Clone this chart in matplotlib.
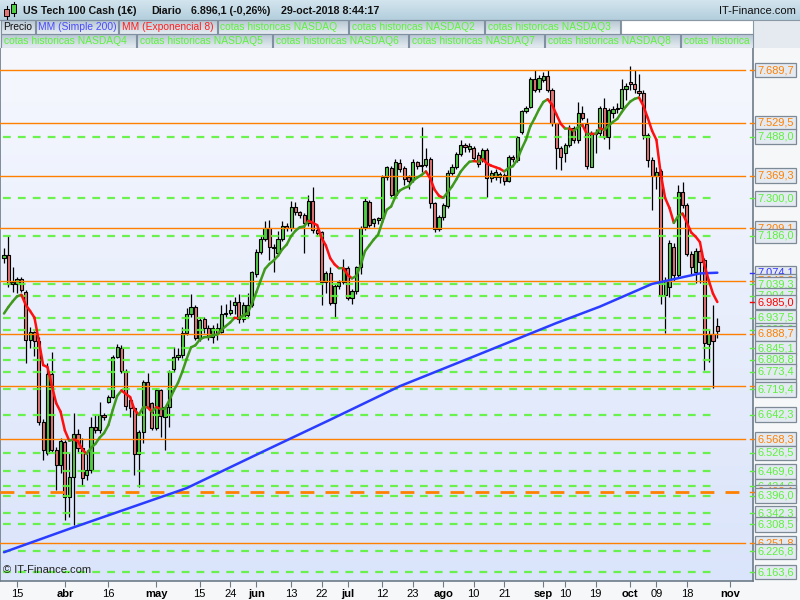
import numpy as np
import pandas as pd
import matplotlib
matplotlib.use("Agg")
import matplotlib.pyplot as plt
from matplotlib.collections import LineCollection
from matplotlib.colors import LinearSegmentedColormap
from matplotlib.patches import Rectangle
from matplotlib.transforms import blended_transform_factory

plt.rcParams['font.family'] = ['Liberation Sans', 'DejaVu Sans']

# CFD trading days: open on US holidays, closed on Good Friday
dates = pd.bdate_range('2018-03-12', '2018-11-02').drop(pd.Timestamp('2018-03-30'))

opens = [
    7118, 7128, 7039, 7039, 7056, 7016, 6869, 6893, 6867, 6620,
    6527, 6765, 6535, 6489, 6560, 6393, 6454, 6583, 6540, 6459,
    6474, 6606, 6596, 6640, 6682, 6696, 6817, 6844, 6775, 6687,
    6662, 6522, 6589, 6743, 6677, 6601, 6717, 6636, 6665, 6780,
    6817, 6824, 6892, 6950, 6969, 6875, 6932, 6905, 6880, 6905,
    6895, 6950, 6953, 6975, 6986, 6932, 6945, 6975, 7070, 7138,
    7176, 7209, 7153, 7133, 7176, 7216, 7209, 7275, 7258, 7250,
    7224, 7292, 7204, 7198, 7047, 7074, 6983, 7034, 7047, 7089,
    6996, 7019, 7090, 7214, 7290, 7224, 7234, 7240, 7366, 7392,
    7310, 7409, 7392, 7366, 7356, 7412, 7402, 7402, 7419, 7287,
    7206, 7244, 7278, 7378, 7397, 7434, 7464, 7449, 7452, 7432,
    7420, 7447, 7361, 7366, 7364, 7371, 7354, 7427, 7417, 7503,
    7566, 7579, 7662, 7632, 7660, 7672, 7630, 7528, 7452, 7439,
    7462, 7513, 7478, 7561, 7525, 7397, 7500, 7498, 7574, 7488,
    7561, 7571, 7575, 7632, 7655, 7647, 7628, 7620, 7493, 7417,
    7368, 7383, 7006, 7030, 7151, 7067, 7320, 7280, 7131, 7077,
    7141, 7113, 6857, 6888, 6913]
highs = [
    7150, 7187, 7092, 7062, 7062, 7020, 6910, 6898, 6880, 6628,
    6798, 6832, 6545, 6570, 6565, 6525, 6646, 6600, 6570, 6535,
    6636, 6641, 6682, 6646, 6702, 6824, 6857, 6854, 6780, 6697,
    6665, 6596, 6748, 6768, 6680, 6722, 6720, 6670, 6778, 6849,
    6844, 6910, 6966, 7009, 6975, 6940, 6940, 6915, 6915, 6920,
    6975, 6980, 6990, 7001, 7010, 6985, 7011, 7080, 7145, 7185,
    7231, 7234, 7160, 7200, 7231, 7225, 7292, 7290, 7262, 7255,
    7310, 7336, 7210, 7200, 7080, 7092, 7040, 7052, 7115, 7095,
    7025, 7095, 7215, 7300, 7295, 7240, 7245, 7370, 7400, 7400,
    7420, 7420, 7400, 7370, 7420, 7415, 7518, 7452, 7425, 7290,
    7250, 7285, 7385, 7405, 7440, 7478, 7470, 7470, 7460, 7440,
    7452, 7452, 7385, 7390, 7380, 7378, 7432, 7432, 7490, 7570,
    7582, 7670, 7690, 7675, 7685, 7690, 7635, 7530, 7460, 7470,
    7523, 7520, 7594, 7580, 7544, 7505, 7510, 7580, 7604, 7575,
    7580, 7590, 7662, 7650, 7703, 7690, 7678, 7630, 7500, 7425,
    7395, 7390, 7060, 7175, 7165, 7341, 7351, 7287, 7140, 7150,
    7150, 7120, 6900, 6976, 6935]
lows = [
    7105, 7032, 7016, 7011, 7016, 6800, 6844, 6821, 6612, 6506,
    6520, 6530, 6413, 6464, 6322, 6332, 6307, 6530, 6424, 6443,
    6464, 6586, 6586, 6626, 6677, 6692, 6814, 6768, 6656, 6636,
    6459, 6423, 6555, 6662, 6596, 6596, 6575, 6535, 6606, 6773,
    6809, 6814, 6885, 6940, 6869, 6865, 6890, 6869, 6860, 6870,
    6890, 6940, 6945, 6950, 6920, 6925, 6935, 6970, 7060, 7130,
    7170, 7113, 7077, 7125, 7170, 7200, 7200, 7250, 7240, 7135,
    7215, 7195, 7185, 6976, 7011, 6975, 6935, 7025, 7040, 6990,
    6980, 7010, 7070, 7205, 7214, 7214, 7222, 7230, 7355, 7300,
    7305, 7380, 7340, 7330, 7350, 7390, 7380, 7395, 7270, 7198,
    7200, 7235, 7270, 7370, 7390, 7430, 7440, 7440, 7415, 7395,
    7410, 7305, 7350, 7355, 7346, 7340, 7350, 7412, 7410, 7495,
    7560, 7575, 7625, 7625, 7655, 7625, 7520, 7391, 7386, 7412,
    7455, 7470, 7470, 7540, 7391, 7395, 7437, 7490, 7480, 7450,
    7545, 7560, 7565, 7600, 7630, 7620, 7610, 7480, 7397, 7265,
    7330, 6980, 6890, 7000, 7050, 7060, 7270, 7125, 7070, 7042,
    7042, 6778, 6804, 6722, 6875]
closes = [
    7128, 7039, 7047, 7056, 7023, 6869, 6893, 6867, 6620, 6535,
    6765, 6535, 6489, 6562, 6393, 6454, 6583, 6540, 6451, 6474,
    6606, 6596, 6640, 6634, 6696, 6817, 6847, 6775, 6670, 6662,
    6522, 6589, 6743, 6667, 6601, 6717, 6638, 6665, 6773, 6817,
    6824, 6892, 6950, 6969, 6875, 6930, 6905, 6880, 6905, 6890,
    6950, 6953, 6961, 6986, 6932, 6975, 6975, 7077, 7138, 7176,
    7209, 7153, 7148, 7176, 7216, 7209, 7275, 7258, 7250, 7224,
    7292, 7204, 7194, 7047, 7074, 6983, 7034, 7047, 7089, 6996,
    7019, 7090, 7209, 7292, 7219, 7236, 7240, 7366, 7395, 7310,
    7412, 7388, 7358, 7354, 7412, 7399, 7399, 7419, 7287, 7206,
    7244, 7280, 7378, 7397, 7434, 7464, 7455, 7459, 7422, 7404,
    7447, 7361, 7376, 7379, 7373, 7354, 7427, 7419, 7486, 7566,
    7576, 7662, 7630, 7665, 7672, 7630, 7528, 7452, 7427, 7462,
    7513, 7478, 7561, 7544, 7399, 7500, 7496, 7574, 7488, 7569,
    7571, 7575, 7632, 7642, 7647, 7632, 7620, 7493, 7417, 7368,
    7381, 7006, 7050, 7165, 7067, 7320, 7280, 7131, 7090, 7141,
    7108, 6859, 6888, 6865.5, 6896.1]

# EMA 8 value at the first visible bar
ema_seed = 6950.0
# Simple 200 moving average, read at a few bars
sma_bars = [0, 15, 42, 60, 75, 91, 110, 127, 137, 149, 160, 164]
sma_vals = [6224, 6295, 6419, 6533, 6627, 6729, 6830, 6921, 6971, 7040, 7072, 7074.1]

orange_levels = [7689.7, 7529.5, 7369.3, 7209.1, 7048.9, 6888.7, 6728.5, 6568.3, 6251.8]
orange_dash_level = 6408.1
green_levels = [7488.0, 7300.0, 7186.0, 7039.3, 7004.7, 6937.5, 6900.2, 6845.1, 6808.8,
                6773.4, 6719.4, 6642.3, 6526.5, 6469.6, 6424.6, 6396.0, 6342.3, 6308.5,
                6226.8, 6163.6]

tick_dates = ['2018-03-15', '2018-04-02', '2018-04-16', '2018-05-01', '2018-05-15', '2018-05-24',
              '2018-06-01', '2018-06-13', '2018-06-22', '2018-07-02', '2018-07-12', '2018-07-23',
              '2018-08-01', '2018-08-10', '2018-08-21', '2018-09-03', '2018-09-10', '2018-09-19',
              '2018-10-01', '2018-10-09', '2018-10-18', '2018-11-01']
tick_labels = ['15', 'abr', '16', 'may', '15', '24', 'jun', '13', '22', 'jul', '12', '23',
               'ago', '10', '21', 'sep', '10', '19', 'oct', '09', '18', 'nov']
month_labels = {'abr', 'may', 'jun', 'jul', 'ago', 'sep', 'oct', 'nov'}

ORANGE = '#ff8000'
GREEN_LVL = '#5cf23a'
UP = '#52cc46'
DOWN = '#e27676'


def fmt(v):
    s = f"{v:,.1f}"
    return s.replace(',', 'X').replace('.', ',').replace('X', '.')


fig = plt.figure(figsize=(8, 6), dpi=100)
fig.patch.set_facecolor('#f6f7f9')

# ---- main price panel
ax = fig.add_axes([0, 19 / 600, 753 / 800, 533 / 600])
ax.set_xlim(-0.92, 172.2)
ax.set_ylim(6136.5, 7757.5)

bg = LinearSegmentedColormap.from_list('bg', ['#dae4fa', '#f6f8fe'])
ax.imshow(np.linspace(0, 1, 256).reshape(-1, 1), cmap=bg, extent=[0, 1, 0, 1],
          transform=ax.transAxes, aspect='auto', origin='lower', zorder=0)

x = np.arange(len(closes))
o = np.array(opens, float)
c = np.array(closes, float)
up = c >= o
ax.vlines(x, lows, highs, color='black', lw=0.9, zorder=2)
body = np.maximum(np.abs(c - o), 2.5)
ax.bar(x, body, bottom=np.minimum(o, c), width=0.72,
       color=np.where(up, UP, DOWN), edgecolor='black', linewidth=0.8, zorder=2.5)

# horizontal levels
for lv in orange_levels:
    ax.axhline(lv, xmin=0, xmax=745 / 753, color=ORANGE, lw=1.0, zorder=3)
ax.axhline(orange_dash_level, xmin=0, xmax=745 / 753, color=ORANGE, lw=2.0,
           dashes=(5, 4), zorder=3)
for lv in green_levels:
    ax.axhline(lv, xmin=3 / 753, xmax=715 / 753, color=GREEN_LVL, lw=1.6,
               dashes=(3.5, 3.2), alpha=0.9, zorder=3)

# moving averages
ax.plot(sma_bars, sma_vals, color='#2a3cff', lw=1.8, zorder=4, solid_capstyle='round')

ema = [ema_seed]
for cl in closes[1:]:
    ema.append(ema[-1] + 2.0 / 9.0 * (cl - ema[-1]))
ema = np.array(ema)
segs = [[(i - 1, ema[i - 1]), (i, ema[i])] for i in range(1, len(ema))]
cols = ['#3f9a1c' if ema[i] >= ema[i - 1] else '#ff1010' for i in range(1, len(ema))]
ax.add_collection(LineCollection(segs, colors=cols, lw=1.8, zorder=4, capstyle='round'))

# x axis
pos = [dates.get_loc(pd.Timestamp(d)) for d in tick_dates]
ax.set_xticks(pos)
ax.set_xticklabels(tick_labels, fontsize=8)
for lab in ax.get_xticklabels():
    if lab.get_text() in month_labels:
        lab.set_fontweight('bold')
ax.tick_params(axis='x', length=4, width=0.8, color='#6d7b88', pad=2)
ax.set_yticks([])
ax.spines['top'].set_visible(False)
for s in ['left', 'right', 'bottom']:
    ax.spines[s].set_color('#6d7b88')
    ax.spines[s].set_linewidth(1.2)

ax.text(0.004, 0.012, '\u00a9 IT-Finance.com', transform=ax.transAxes, fontsize=8,
        color='#222222', ha='left', va='bottom', zorder=6)

# right side value labels (lower values drawn on top, as in the reference)
labels = [(v, ORANGE) for v in orange_levels] + [(orange_dash_level, ORANGE)]
labels += [(v, GREEN_LVL) for v in green_levels]
labels += [(sma_vals[-1], '#3333ff'), (round(ema[-1], 1), '#ff0000')]
labels.sort(key=lambda t: -t[0])
tr = blended_transform_factory(fig.transFigure, ax.transData)
for k, (v, col) in enumerate(labels):
    ax.plot([171.4, 172.6], [v, v], color=col, lw=1.0, clip_on=False, zorder=5)
    ax.text(757 / 800, v, fmt(v), transform=tr, fontsize=7.9, color=col,
            ha='left', va='center', zorder=10 + k,
            bbox=dict(boxstyle='square,pad=0.2', fc='#e4eaf2', ec='#7d8a96', lw=0.9))

# ---- header
hax = fig.add_axes([0, 552 / 600, 1, 48 / 600])
hax.set_xlim(0, 800)
hax.set_ylim(48, 0)
hax.axis('off')
hdr = LinearSegmentedColormap.from_list('hdr', ['#d3e5ee', '#b3cedd'])
hax.imshow(np.linspace(0, 1, 64).reshape(-1, 1), cmap=hdr, extent=[0, 800, 20, 0],
           aspect='auto', zorder=0)
hax.add_patch(Rectangle((0, 20), 800, 28, fc='#e4eaef', ec='none', zorder=0))
hax.add_patch(Rectangle((621, 20), 132, 14, fc='white', ec='#8a98a3', lw=0.8, zorder=1))
hax.plot([0, 800], [20, 20], color='#8a98a3', lw=0.8)

# candle icon
hax.plot([6.5, 6.5], [6, 19], color='black', lw=0.8)
hax.add_patch(Rectangle((4, 9), 5, 7, fc=DOWN, ec='black', lw=0.7, zorder=2))
hax.plot([13.5, 13.5], [2, 16], color='black', lw=0.8)
hax.add_patch(Rectangle((11, 4), 5, 9, fc=UP, ec='black', lw=0.7, zorder=2))

for xx, t in [(23, 'US Tech 100 Cash (1\u20ac)'), (151, 'Diario'),
              (191, '6.896,1 (-0,26%)'), (281, '29-oct-2018 8:44:17')]:
    hax.text(xx, 10.5, t, fontsize=7.7, fontweight='bold', va='center', ha='left', color='#111111')
hax.text(796, 10.5, 'IT-Finance.com', fontsize=8, va='center', ha='right', color='#111111')

tabcm = LinearSegmentedColormap.from_list('tab', ['#b6c6d2', '#e6edf2'])
grad = np.linspace(0, 1, 32).reshape(-1, 1)
row2 = [(1, 35, 'Precio', '#111111'), (36, 118, 'MM (Simple 200)', '#4a4aff'),
        (119, 217, 'MM (Exponencial 8)', '#ff2020'),
        (218, 348, 'cotas historicas NASDAQ', GREEN_LVL),
        (349, 484, 'cotas historicas NASDAQ2', GREEN_LVL),
        (485, 620, 'cotas historicas NASDAQ3', GREEN_LVL)]
row3 = [(1, 136, 'cotas historicas NASDAQ4', GREEN_LVL),
        (137, 272, 'cotas historicas NASDAQ5', GREEN_LVL),
        (273, 408, 'cotas historicas NASDAQ6', GREEN_LVL),
        (409, 544, 'cotas historicas NASDAQ7', GREEN_LVL),
        (545, 680, 'cotas historicas NASDAQ8', GREEN_LVL),
        (681, 753, 'cotas historica', GREEN_LVL)]
for y0, row in [(20, row2), (34, row3)]:
    for x0, x1, t, col in row:
        hax.imshow(grad, cmap=tabcm, extent=[x0, x1, y0 + 14, y0], aspect='auto', zorder=1)
        hax.add_patch(Rectangle((x0, y0), x1 - x0, 14, fc='none', ec='#8090a0', lw=0.8, zorder=2))
        hax.text(x0 + 2.5, y0 + 7.5, t, fontsize=7.4, color=col, va='center', ha='left', zorder=3)

fig.savefig('out.png', dpi=100, facecolor=fig.get_facecolor())
print(round(ema[-1], 2))
